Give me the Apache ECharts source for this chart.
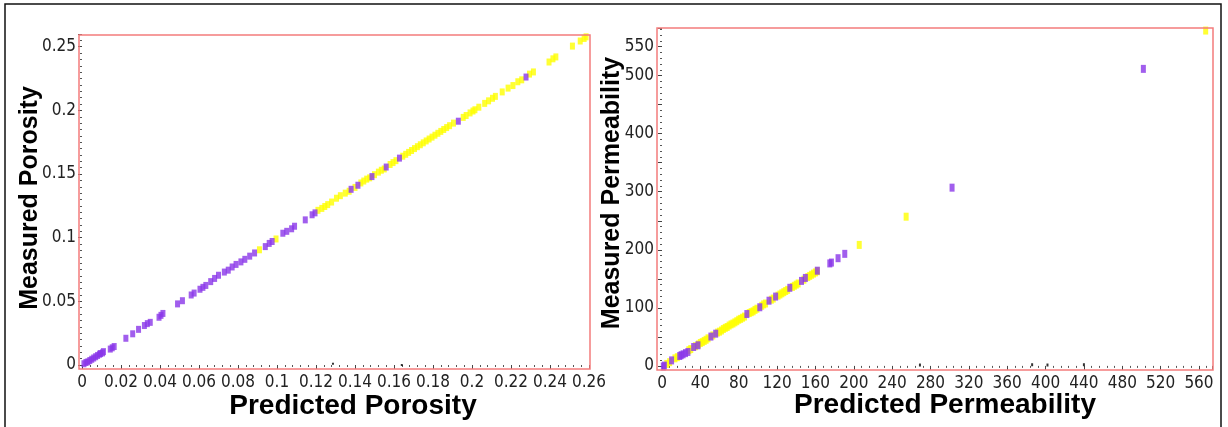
<!DOCTYPE html>
<html>
<head>
<meta charset="utf-8">
<script src="https://cdn.jsdelivr.net/npm/echarts@6/dist/echarts.min.js"></script>
<style>
html,body{margin:0;padding:0;background:#fff;}
#chart{width:1228px;height:427px;}
</style>
</head>
<body>
<div id="chart"></div>
<script>
// ---- Data ----
const porosityXTicks = [0,0.02,0.04,0.06,0.08,0.1,0.12,0.14,0.16,0.18,0.2,0.22,0.24,0.26];
const porosityYTicks = [0,0.05,0.1,0.15,0.2,0.25];
const permXTicks = [0,40,80,120,160,200,240,280,320,360,400,440,480,520,560];
const permYTicks = [0,100,200,300,400,500,550];

const porosityPurple = [
  [0.001,0.001],[0.002,0.002],[0.003,0.0025],[0.004,0.0035],[0.005,0.0045],[0.006,0.0055],
  [0.007,0.0065],[0.008,0.0075],[0.009,0.0085],[0.0095,0.009],[0.0105,0.0095],[0.011,0.0105],
  [0.0145,0.0125],[0.0155,0.0135],[0.0165,0.0145],
  [0.0225,0.021],[0.026,0.0245],[0.029,0.028],[0.032,0.031],[0.0335,0.0325],[0.035,0.0335],
  [0.0395,0.0375],[0.0405,0.039],[0.0415,0.0405],[0.049,0.048],[0.0515,0.0505],
  [0.056,0.055],[0.0575,0.0565],[0.0605,0.0595],[0.062,0.061],[0.0635,0.0625],
  [0.066,0.0655],[0.068,0.068],[0.070,0.0705],[0.073,0.073],[0.075,0.0745],[0.077,0.077],
  [0.079,0.079],[0.0815,0.081],[0.0835,0.083],[0.086,0.0855],[0.0885,0.088],
  [0.094,0.093],[0.096,0.0955],[0.0975,0.097],[0.103,0.1035],[0.105,0.105],[0.1075,0.107],
  [0.109,0.109],[0.1145,0.114],[0.118,0.118],[0.1195,0.1195],
  [0.138,0.138],[0.1415,0.1412],[0.1487,0.148],[0.156,0.1555],[0.1628,0.1625],
  [0.193,0.1915],[0.2277,0.2262]
];
const porosityYellow = [
  [0.091,0.0905],[0.0995,0.099],
  [0.121,0.1215],[0.123,0.123],[0.1245,0.1245],[0.126,0.126],[0.128,0.128],[0.1305,0.131],
  [0.1325,0.133],[0.135,0.135],[0.137,0.1365],[0.14,0.1395],[0.143,0.143],[0.1445,0.1445],
  [0.146,0.146],[0.1475,0.147],[0.15,0.1495],[0.152,0.1515],[0.1535,0.153],[0.155,0.154],
  [0.158,0.1575],[0.1595,0.159],[0.161,0.1605],[0.1645,0.164],[0.166,0.1655],[0.1675,0.167],
  [0.169,0.1685],[0.1705,0.17],[0.172,0.1715],[0.1735,0.173],[0.175,0.1745],[0.1765,0.176],
  [0.178,0.1775],[0.1795,0.179],[0.181,0.1805],[0.1825,0.182],[0.184,0.1835],[0.1855,0.185],
  [0.187,0.1865],[0.1885,0.188],[0.1905,0.19],[0.1955,0.1945],[0.197,0.196],[0.199,0.198],
  [0.2005,0.1995],[0.2015,0.2005],[0.2035,0.2025],[0.2065,0.2055],[0.2085,0.2075],
  [0.2105,0.2095],[0.212,0.211],[0.2155,0.2145],[0.2185,0.2175],[0.221,0.2195],
  [0.2235,0.2225],[0.2255,0.224],[0.2295,0.2285],[0.2315,0.2302],[0.2395,0.238],
  [0.2415,0.2405],[0.243,0.242],[0.2515,0.2505],[0.2555,0.2545],[0.2575,0.2565],[0.2585,0.2578]
];
const porosityStray = [[0.1287,0.001],[0.164,0.0]];

const permPurple = [
  [502,511.6],[302.5,307],[190.6,193],[183.6,185.5],[176.7,178],[175,176.5],[162,164],
  [149.5,151.5],[145.5,146.4],[133.3,134.5],[118.5,119.4],[111.6,112.3],[102,101],
  [88.5,89.3],[56,55.5],[51,50.5],[37.5,35.5],[33,32.5],[27,24],[24.5,22],[22,20],
  [20,18.5],[18.5,17],[10,9.5],[1.4,-1],[2.5,0.5]
];
const permYellow = [
  [567,577.6],[254.6,257],[205.7,208.4],
  [5,3.4],[8,6.5],[13.5,13],[16,15],[28,27],[30,29],[35,34],[38,37],[40,39.5],[42,41],
  [44,43],[46,45],[48,47.5],[53,52.5],[58,57.5],[60,59],[62,61],[64,63.5],[66,65.5],
  [68,67],[70,69.5],[72,71.5],[74,73],[76,75],[78,77],[80,79.5],[82,81],[84,83],[86,85],
  [91,91],[93,92.5],[95,94],[97,96.5],[99,98.5],[104,103.5],[106,106],[108,107.5],
  [114,114],[116,116],[121,121],[123,123],[125,125],[127,127],[129,129],[131,131],
  [136,136],[138,138],[140,140],[142,142],[148,148.5],[152,153],[154,155],[156,157],
  [158,159],[160,161],[162,163]
];
const permStray = [[269,1.5],[386,2],[402,1.5],[440,2]];

// ---- Styling ----
const PURPLE = '#8a36e8';
const YELLOW = '#ffff00';
const TICK_FONT = "'Liberation Sans Narrow','Arial Narrow','DejaVu Sans Condensed',sans-serif";
const TITLE_FONT = "'Liberation Sans',Arial,sans-serif";
const labelStyle = {fontFamily: TICK_FONT, fontSize: 17, color: '#222'};

function near(v, list){ return list.some(t => Math.abs(t - v) < 1e-9); }

function axisCommon(extra){
  return Object.assign({
    type: 'value',
    axisLine: {show: false},
    splitLine: {show: false},
    axisTick: {show: true, length: 4, lineStyle: {color: '#444', width: 1}},
    minorTick: {show: true, length: 2, lineStyle: {color: '#555', width: 1}},
    minorSplitLine: {show: false}
  }, extra);
}

const chart = echarts.init(document.getElementById('chart'), null, {renderer: 'canvas'});

const option = {
  animation: false,
  backgroundColor: '#fff',
  grid: [
    {left: 82, top: 34, width: 507, height: 331},
    {left: 662, top: 28, width: 550.4, height: 337.9}
  ],
  xAxis: [
    axisCommon({gridIndex: 0, min: 0, max: 0.26, interval: 0.02, offset: 4,
      minorTick: {show: true, splitNumber: 5, length: 2, lineStyle: {color: '#555'}},
      axisLabel: Object.assign({margin: 5, showMaxLabel: true,
        formatter: v => near(v, porosityXTicks) ? String(+v.toFixed(2)) : ''}, labelStyle)}),
    axisCommon({gridIndex: 1, min: 0, max: 574, interval: 40, offset: 4,
      minorTick: {show: true, splitNumber: 5, length: 2, lineStyle: {color: '#555'}},
      axisLabel: Object.assign({margin: 5, showMaxLabel: false,
        formatter: v => near(v, permXTicks) ? String(v) : ''}, labelStyle)})
  ],
  yAxis: [
    axisCommon({gridIndex: 0, min: 0, max: 0.26, interval: 0.05, offset: 3,
      minorTick: {show: true, splitNumber: 10, length: 2, lineStyle: {color: '#555'}},
      axisLabel: Object.assign({margin: 3, showMaxLabel: false,
        formatter: v => near(v, porosityYTicks) ? String(+v.toFixed(2)) : ''}, labelStyle)}),
    axisCommon({gridIndex: 1, min: 0, max: 582, interval: 50, offset: 5,
      minorTick: {show: true, splitNumber: 5, length: 2, lineStyle: {color: '#555'}},
      axisLabel: Object.assign({margin: 3, showMaxLabel: false,
        formatter: v => near(v, permYTicks) ? String(v) : ''}, labelStyle)})
  ],
  series: [
    {type: 'scatter', xAxisIndex: 0, yAxisIndex: 0, data: porosityYellow, clip: false,
      symbol: 'rect', symbolSize: [5, 7], itemStyle: {color: YELLOW}},
    {type: 'scatter', xAxisIndex: 0, yAxisIndex: 0, data: porosityPurple, clip: false,
      symbol: 'rect', symbolSize: [5, 7], itemStyle: {color: PURPLE}},
    {type: 'scatter', xAxisIndex: 0, yAxisIndex: 0, data: porosityStray, clip: false,
      symbol: 'rect', symbolSize: [2, 2], itemStyle: {color: '#000'}},
    {type: 'scatter', xAxisIndex: 1, yAxisIndex: 1, data: permYellow, clip: false,
      symbol: 'rect', symbolSize: [5, 8], itemStyle: {color: YELLOW}},
    {type: 'scatter', xAxisIndex: 1, yAxisIndex: 1, data: permPurple, clip: false,
      symbol: 'rect', symbolSize: [5, 8], itemStyle: {color: PURPLE}},
    {type: 'scatter', xAxisIndex: 1, yAxisIndex: 1, data: permStray, clip: false,
      symbol: 'rect', symbolSize: [2, 3], itemStyle: {color: '#000'}}
  ],
  graphic: [
    {type: 'rect', shape: {x: 5, y: 4, width: 1216, height: 430}, silent: true, z: 100,
      style: {fill: 'none', stroke: '#111', lineWidth: 1.5}},
    {type: 'rect', shape: {x: 79, y: 35, width: 511, height: 334}, silent: true, z: 100,
      style: {fill: 'none', stroke: '#f47c7c', lineWidth: 1.5}},
    {type: 'rect', shape: {x: 657, y: 28, width: 556, height: 342}, silent: true, z: 100,
      style: {fill: 'none', stroke: '#f47c7c', lineWidth: 1.5}},
    {type: 'text', x: 353, y: 406, z: 100,
      style: {text: 'Predicted Porosity', font: "bold 28px " + TITLE_FONT, fill: '#000',
        align: 'center', verticalAlign: 'middle'}},
    {type: 'text', x: 945, y: 405, z: 100,
      style: {text: 'Predicted Permeability', font: "bold 28px " + TITLE_FONT, fill: '#000',
        align: 'center', verticalAlign: 'middle'}},
    {type: 'text', x: 30, y: 198, rotation: Math.PI / 2, z: 100,
      style: {text: 'Measured Porosity', font: "bold 25px " + TITLE_FONT, fill: '#000',
        align: 'center', verticalAlign: 'middle'}},
    {type: 'text', x: 612, y: 193, rotation: Math.PI / 2, z: 100,
      style: {text: 'Measured Permeability', font: "bold 25px " + TITLE_FONT, fill: '#000',
        align: 'center', verticalAlign: 'middle'}}
  ]
};
chart.setOption(option);
</script>
</body>
</html>
